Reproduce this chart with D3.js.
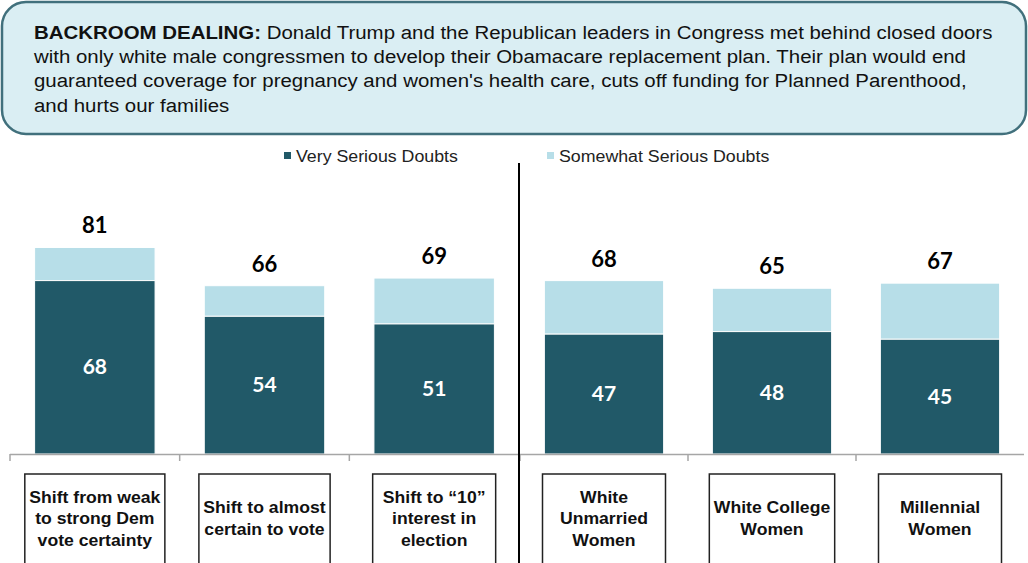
<!DOCTYPE html>
<html>
<head>
<meta charset="utf-8">
<script src="https://cdn.jsdelivr.net/npm/d3@7"></script>
<style>
	body { margin: 0; background: #fff; }
	svg { display: block; }
</style>
</head>
<body>
<svg id="chart" width="1028" height="563"></svg>
<script>

// two panels, same measure
var leftCategories = [
	['Shift from weak', 'to strong Dem', 'vote certainty'],
	['Shift to almost', 'certain to vote'],
	['Shift to \u201c10\u201d', 'interest in', 'election']
];
var rightCategories = [
	['White', 'Unmarried', 'Women'],
	['White College', 'Women'],
	['Millennial', 'Women']
];

var leftVery = [68, 54, 51];
var leftSomewhat = [13, 12, 18];
var rightVery = [47, 48, 45];
var rightSomewhat = [21, 17, 22];

var seriesNames = ['Very Serious Doubts', 'Somewhat Serious Doubts'];

var headerLead = 'BACKROOM DEALING:';
var headerLines = [
	' Donald Trump and the Republican leaders in Congress met behind closed doors',
	'with only white male congressmen to develop their Obamacare replacement plan. Their plan would end',
	'guaranteed  coverage for pregnancy and women\'s health care, cuts off funding for Planned Parenthood,',
	'and hurts our families'
];

var darkColor = '#215968';
var lightColor = '#b7dee8';
var baseline = 454;

var svg = d3.select('#chart');

// the original text is a bit wider than Arial, stretch it
// returns the stretched width
function stretch(sel, factor) {
	var out = 0;
	sel.each(function() {
		var w = this.getComputedTextLength() * factor;
		d3.select(this).attr('textLength', w).attr('lengthAdjust', 'spacingAndGlyphs');
		out = Math.max(out, w);
	});
	return out;
}

// header box
svg.append('rect')
	.attr('x', 2).attr('y', 2)
	.attr('width', 1024).attr('height', 132)
	.attr('rx', 24).attr('ry', 24)
	.style('fill', '#daeef3')
	.style('stroke', '#41707c')
	.style('stroke-width', 2.5);

headerLines.forEach(function(line, i) {
	var t = svg.append('text')
		.attr('x', 34)
		.attr('y', 39 + i * 24.2)
		.style('font-family', 'Arial, "Liberation Sans", sans-serif')
		.style('font-size', '18px')
		.style('fill', '#111');
	if (i === 0) {
		t.append('tspan').text(headerLead).style('font-weight', 'bold');
		t.append('tspan').text(line);
	} else {
		t.text(line);
	}
	stretch(t, 1.135);
});

// legend
var legendX = [284, 547];
seriesNames.forEach(function(name, i) {
	svg.append('rect')
		.attr('x', legendX[i]).attr('y', 152)
		.attr('width', 7).attr('height', 7)
		.style('fill', i === 0 ? darkColor : lightColor);
	var t = svg.append('text')
		.attr('x', legendX[i] + 12).attr('y', 162)
		.text(name)
		.style('font-family', 'Arial, "Liberation Sans", sans-serif')
		.style('font-size', '16px')
		.style('fill', '#222');
	stretch(t, 1.11);
});

var y = d3.scaleLinear().domain([0, 100]).range([baseline, baseline - 255]);

function drawPanel(categories, very, somewhat, x0, x1) {

	var idx = d3.range(categories.length);
	var x = d3.scaleBand().domain(idx).range([x0, x1]).padding(0);
	var bw = x.bandwidth() * 0.71;
	var off = (x.bandwidth() - bw) / 2;

	var g = svg.append('g');

	// somewhat on top of very
	g.selectAll('rect.light').data(idx).enter().append('rect')
		.attr('class', 'light')
		.attr('x', function(d) { return x(d) + off; })
		.attr('y', function(d) { return y(very[d] + somewhat[d]); })
		.attr('width', bw)
		.attr('height', function(d) { return y(very[d]) - y(very[d] + somewhat[d]); })
		.style('fill', lightColor)
		.style('stroke', '#fff').style('stroke-width', 1);

	g.selectAll('rect.dark').data(idx).enter().append('rect')
		.attr('class', 'dark')
		.attr('x', function(d) { return x(d) + off; })
		.attr('y', function(d) { return y(very[d]); })
		.attr('width', bw)
		.attr('height', function(d) { return y(0) - y(very[d]); })
		.style('fill', darkColor)
		.style('stroke', '#fff').style('stroke-width', 1);

	// totals
	g.selectAll('text.total').data(idx).enter().append('text')
		.attr('class', 'total')
		.attr('x', function(d) { return x(d) + x.bandwidth() / 2; })
		.attr('y', function(d) { return y(very[d] + somewhat[d]) - 14; })
		.attr('text-anchor', 'middle')
		.text(function(d) { return very[d] + somewhat[d]; })
		.style('font-family', 'Lato, "Open Sans", sans-serif')
		.style('font-weight', 'bold')
		.style('font-size', '22px')
		.style('fill', '#000');

	// inside labels
	g.selectAll('text.inner').data(idx).enter().append('text')
		.attr('class', 'inner')
		.attr('x', function(d) { return x(d) + x.bandwidth() / 2; })
		.attr('y', function(d) { return (y(very[d]) + y(0)) / 2 + 7; })
		.attr('text-anchor', 'middle')
		.text(function(d) { return very[d]; })
		.style('font-family', 'Lato, "Open Sans", sans-serif')
		.style('font-weight', 'bold')
		.style('font-size', '21px')
		.style('fill', '#fff');

	// axis line and ticks at band edges
	g.append('line')
		.attr('x1', x0).attr('x2', x1)
		.attr('y1', baseline + 0.5).attr('y2', baseline + 0.5)
		.style('stroke', '#a6a6a6').style('stroke-width', 1.5);
	g.selectAll('line.tick').data(idx).enter().append('line')
		.attr('class', 'tick')
		.attr('x1', function(d) { return x(d); })
		.attr('x2', function(d) { return x(d); })
		.attr('y1', baseline).attr('y2', baseline + 7)
		.style('stroke', '#a6a6a6').style('stroke-width', 1.5);

	// category boxes
	idx.forEach(function(d) {
		var cx = x(d) + x.bandwidth() / 2;
		var box = g.append('g');
		var r = box.append('rect');
		var lines = categories[d];
		var lh = 21.5;
		var top = 518 - (lines.length - 1) * lh / 2;
		var maxW = 0;
		lines.forEach(function(line, i) {
			var t = box.append('text')
				.attr('text-anchor', 'middle')
				.attr('x', cx)
				.attr('y', top + i * lh + 6)
				.text(line)
				.style('font-family', 'Arial, "Liberation Sans", sans-serif')
				.style('font-weight', 'bold')
				.style('font-size', '16px')
				.style('fill', '#111');
			maxW = Math.max(maxW, stretch(t, 1.1));
		});
		var w = Math.max(123, maxW + 9);
		r.attr('x', cx - w / 2).attr('y', 474)
			.attr('width', w).attr('height', 100)
			.style('fill', '#fff')
			.style('stroke', '#222')
			.style('stroke-width', 1.5);
	});
}

drawPanel(leftCategories, leftVery, leftSomewhat, 10, 519);
drawPanel(rightCategories, rightVery, rightSomewhat, 520, 1024);

// divider between the panels
svg.append('line')
	.attr('x1', 519).attr('x2', 519)
	.attr('y1', 163).attr('y2', 563)
	.style('stroke', '#000').style('stroke-width', 2);

</script>
</body>
</html>
